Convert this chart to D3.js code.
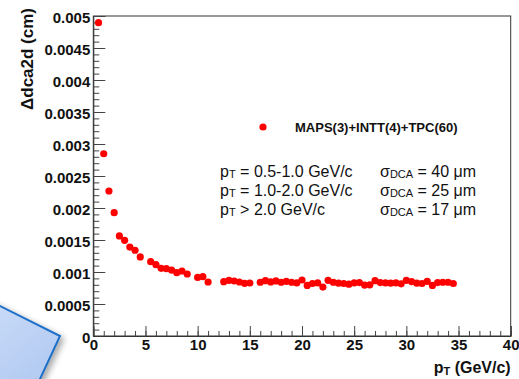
<!DOCTYPE html>
<html>
<head>
<meta charset="utf-8">
<script src="https://cdn.jsdelivr.net/npm/d3@7"></script>
<style>
  body { margin: 0; background: #fff; }
  svg { display: block; font-family: "Liberation Sans", Arial, sans-serif; }
</style>
</head>
<body>
<div id="chart"></div>
<script>
// data (pT in GeV/c, resolution in cm)
const ptValues = [0.5, 1.0, 1.5, 2.0, 2.5, 3.0, 3.5, 4.0, 4.5, 5.5, 6.0, 6.5, 7.0, 7.5, 8.0, 8.5, 9.0,
  10.0, 10.5, 11.0, 12.5, 13.0, 13.5, 14.0, 14.5, 15.0, 16.0, 16.5, 17.0, 17.5, 18.0, 18.5, 19.0, 19.5,
  20.0, 20.5, 21.0, 21.5, 22.0, 22.5, 23.0, 23.5, 24.0, 24.5, 25.0, 25.5, 26.0, 26.5, 27.0, 27.5, 28.0,
  28.5, 29.0, 29.5, 30.0, 30.5, 31.0, 31.5, 32.0, 32.5, 33.0, 33.5, 34.0, 34.5];
const dcaValues = [0.004895, 0.002848, 0.002266, 0.001927, 0.001563, 0.001495, 0.001390, 0.001340, 0.001235,
  0.001161, 0.001114, 0.001057, 0.001052, 0.001030, 0.000989, 0.001016, 0.000969,
  0.000916, 0.000927, 0.000844, 0.000849, 0.000870, 0.000859, 0.000844, 0.000823, 0.000828,
  0.000840, 0.000865, 0.000845, 0.000860, 0.000840, 0.000855, 0.000840, 0.000830,
  0.000875, 0.000790, 0.000820, 0.000830, 0.000765, 0.000870, 0.000840, 0.000825, 0.000820, 0.000810,
  0.000830, 0.000835, 0.000795, 0.000800, 0.000865, 0.000835, 0.000830, 0.000825, 0.000830, 0.000815,
  0.000870, 0.000850, 0.000825, 0.000820, 0.000855, 0.000790, 0.000835, 0.000840, 0.000840, 0.000820];

const xTickValues = [0, 5, 10, 15, 20, 25, 30, 35, 40];
const xTickLabels = ["0", "5", "10", "15", "20", "25", "30", "35", "40"];
const yTickValues = [0, 0.0005, 0.001, 0.0015, 0.002, 0.0025, 0.003, 0.0035, 0.004, 0.0045, 0.005];
const yTickLabels = ["0", "0.0005", "0.001", "0.0015", "0.002", "0.0025", "0.003", "0.0035", "0.004", "0.0045", "0.005"];

const legendLabel = "MAPS(3)+INTT(4)+TPC(60)";
const ptRanges = [" = 0.5-1.0 GeV/c", " = 1.0-2.0 GeV/c", " > 2.0 GeV/c"];
const sigmaValues = [" = 40 μm", " = 25 μm", " = 17 μm"];

const W = 519, H = 379;
const frame = { left: 93.3, right: 510.7, top: 16, bottom: 336 };

const svg = d3.select("#chart").append("svg")
  .attr("width", W).attr("height", H);

// blue slide box peeking in at bottom-left
const defs = svg.append("defs");
const grad = defs.append("linearGradient").attr("id", "boxGrad")
  .attr("x1", "0%").attr("y1", "0%").attr("x2", "100%").attr("y2", "100%");
grad.append("stop").attr("offset", "40%").attr("stop-color", "#dbe8fd");
grad.append("stop").attr("offset", "100%").attr("stop-color", "#9fbcec");
const shadow = defs.append("filter").attr("id", "shadow")
  .attr("x", "-20%").attr("y", "-20%").attr("width", "150%").attr("height", "150%");
shadow.append("feDropShadow").attr("dx", 3).attr("dy", 3).attr("stdDeviation", 3)
  .attr("flood-color", "#000").attr("flood-opacity", 0.35);

svg.append("polygon")
  .attr("points", "-200,206 60,336 0,465 -260,335")
  .attr("fill", "url(#boxGrad)")
  .attr("stroke", "#1f6fc8")
  .attr("stroke-width", 2)
  .attr("filter", "url(#shadow)");

const x = d3.scaleLinear().domain([0, 40]).range([frame.left, frame.right]);
const y = d3.scaleLinear().domain([0, 0.005]).range([frame.bottom, frame.top]);

// frame
svg.append("rect")
  .attr("x", frame.left).attr("y", frame.top)
  .attr("width", frame.right - frame.left).attr("height", frame.bottom - frame.top)
  .attr("fill", "none").attr("stroke", "#333").attr("stroke-width", 1);

// y axis: minor then major ticks, drawn inward
svg.append("g")
  .attr("transform", `translate(${frame.left},0)`)
  .call(d3.axisLeft(y).tickValues(d3.range(0, 51).map(i => i * 0.0001))
    .tickSize(-6).tickFormat(""))
  .call(g => g.select(".domain").remove())
  .call(g => g.selectAll("line").attr("stroke", "#444"));

svg.append("g")
  .attr("transform", `translate(${frame.left},0)`)
  .call(d3.axisLeft(y).tickValues(yTickValues).tickSize(-12).tickPadding(3)
    .tickFormat((d, i) => yTickLabels[i]))
  .call(g => g.select(".domain").attr("stroke", "#333"))
  .call(g => g.selectAll("line").attr("stroke", "#444"))
  .call(g => g.selectAll("text")
    .attr("fill", "#111").attr("font-size", 15).attr("font-weight", "bold")
    .attr("font-family", "Liberation Sans, Arial, sans-serif")
    .attr("dy", "0.45em"));

// x axis
svg.append("g")
  .attr("transform", `translate(0,${frame.bottom})`)
  .call(d3.axisBottom(x).tickValues(d3.range(0, 41)).tickSize(-5).tickFormat(""))
  .call(g => g.select(".domain").remove())
  .call(g => g.selectAll("line").attr("stroke", "#444"));

svg.append("g")
  .attr("transform", `translate(0,${frame.bottom})`)
  .call(d3.axisBottom(x).tickValues(xTickValues).tickSize(-10).tickPadding(3)
    .tickFormat((d, i) => xTickLabels[i]))
  .call(g => g.select(".domain").attr("stroke", "#333"))
  .call(g => g.selectAll("line").attr("stroke", "#444"))
  .call(g => g.selectAll("text")
    .attr("fill", "#111").attr("font-size", 15).attr("font-weight", "bold")
    .attr("font-family", "Liberation Sans, Arial, sans-serif")
    .attr("dy", "0.75em"));

// axis titles
svg.append("text")
  .attr("transform", `translate(33,${frame.top - 8}) rotate(-90)`)
  .attr("text-anchor", "end")
  .attr("font-size", 17).attr("font-weight", "bold").attr("fill", "#111")
  .text("Δdca2d (cm)");

const xt = svg.append("text")
  .attr("x", frame.right).attr("y", 373)
  .attr("text-anchor", "end")
  .attr("font-size", 16).attr("font-weight", "bold").attr("fill", "#111");
xt.append("tspan").text("p");
xt.append("tspan").attr("font-size", 11).attr("dy", 2).text("T");
xt.append("tspan").attr("dy", -2).text(" (GeV/c)");

// points
const points = ptValues.map((p, i) => ({ pt: p, dca: dcaValues[i] }));
svg.append("g").selectAll("circle")
  .data(points)
  .enter().append("circle")
  .attr("cx", d => x(d.pt))
  .attr("cy", d => y(d.dca))
  .attr("r", 3.6)
  .attr("fill", "#f00");

// legend
svg.append("circle").attr("cx", 263).attr("cy", 127).attr("r", 3.6).attr("fill", "#f00");
svg.append("text").attr("x", 295).attr("y", 132)
  .attr("font-size", 13).attr("font-weight", "bold").attr("fill", "#111")
  .text(legendLabel);

ptRanges.forEach((txt, i) => {
  const by = 177 + i * 19;
  const t1 = svg.append("text").attr("x", 220).attr("y", by)
    .attr("font-size", 16).attr("fill", "#111");
  t1.append("tspan").text("p");
  t1.append("tspan").attr("font-size", 11).attr("dy", 1).text("T");
  t1.append("tspan").attr("dy", -1).text(txt);

  const t2 = svg.append("text").attr("x", 380).attr("y", by)
    .attr("font-size", 16).attr("fill", "#111");
  t2.append("tspan").text("σ");
  t2.append("tspan").attr("font-size", 11).attr("dy", 1).text("DCA");
  t2.append("tspan").attr("dy", -1).text(sigmaValues[i]);
});
</script>
</body>
</html>
